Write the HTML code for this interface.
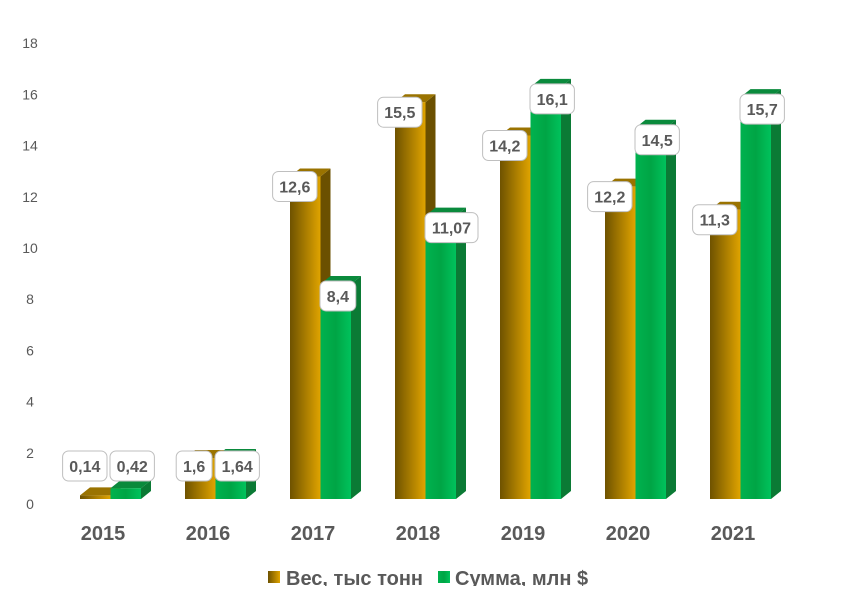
<!DOCTYPE html>
<html><head><meta charset="utf-8"><style>
body{margin:0;background:#fff;}
svg text{font-family:"Liberation Sans","DejaVu Sans",sans-serif;}
</style></head><body>
<svg width="841" height="586">
<defs>
<linearGradient id="gold" x1="0" x2="1" y1="0" y2="0"><stop offset="0" stop-color="#6e5200"/><stop offset="1" stop-color="#e0a400"/></linearGradient>
<linearGradient id="green" x1="0" x2="1" y1="0" y2="0"><stop offset="0" stop-color="#00b24f"/><stop offset="0.5" stop-color="#00a545"/><stop offset="1" stop-color="#00c25c"/></linearGradient>
</defs>
<g id="yaxis"></g>
<g id="bars"></g>
<g id="xaxis"></g>
<g>
<g><rect x="268" y="571" width="12" height="12" fill="url(#gold)"/><text x="286" y="585" font-size="20" font-weight="bold" fill="#595959">Вес, тыс тонн</text></g>
<g><rect x="438" y="571" width="12" height="12" fill="url(#green)"/><text x="455" y="585" font-size="20" font-weight="bold" fill="#595959">Сумма, млн $</text></g>
</g>
</svg>
<script>
const categories=["2015","2016","2017","2018","2019","2020","2021"];
const weight=[0.14,1.6,12.6,15.5,14.2,12.2,11.3];
const sum=[0.42,1.64,8.4,11.07,16.1,14.5,15.7];
const weightLabels=["0,14","1,6","12,6","15,5","14,2","12,2","11,3"];
const sumLabels=["0,42","1,64","8,4","11,07","16,1","14,5","15,7"];
const yTicks=[0,2,4,6,8,10,12,14,16,18];
const NS="http://www.w3.org/2000/svg";
const base=499,k=25.6;
const y=v=>base-v*k;
const x=i=>80+i*105;
function mk(tag,attrs,parent){const e=document.createElementNS(NS,tag);for(const a in attrs)e.setAttribute(a,attrs[a]);parent.appendChild(e);return e;}
const ya=document.getElementById('yaxis'),bg=document.getElementById('bars'),xa=document.getElementById('xaxis');
yTicks.forEach(t=>{const e=mk('text',{x:30,y:y(t)+10,'text-anchor':'middle','font-size':14,fill:'#595959'},ya);e.textContent=t;

});
const dx=10,dy=8,w=30.5;
function bar(x0,v,fill,top,side,name){
 const g=mk('g',{},bg);
 
 
 const yt=y(v);
 mk('polygon',{points:`${x0+w},${yt} ${x0+w+dx},${yt-dy} ${x0+w+dx},${base-dy} ${x0+w},${base}`,fill:side},g);
 mk('polygon',{points:`${x0},${yt} ${x0+dx},${yt-dy} ${x0+w+dx},${yt-dy} ${x0+w},${yt}`,fill:top},g);
 mk('rect',{x:x0,y:yt,width:w,height:base-yt,fill:fill},g);
}
function label(edge,right,cy,txt,name){
 const g=mk('g',{},bg);
 
 
 const tw=txt.length*8.6+10;
 const lx=right?edge-tw:edge;
 mk('rect',{x:lx,y:cy-15,width:tw,height:30,rx:6,fill:'#fff',stroke:'#bfbfbf'},g);
 const t=mk('text',{x:lx+tw/2,y:cy+6,'text-anchor':'middle','font-size':16,'font-weight':'bold',fill:'#595959'},g);t.textContent=txt;
}
categories.forEach((c,i)=>{
 const x0=x(i);
 bar(x0,weight[i],'url(#gold)','#9a7300','#6b5000','bar-weight-'+c);
 bar(x0+w,sum[i],'url(#green)','#0a8a3c','#0b7a35','bar-sum-'+c);
 label(x0+27,true,Math.min(y(weight[i])+10,466),weightLabels[i],'value-label-weight-'+c);
 label(x0+30,false,Math.min(y(sum[i])+12,466),sumLabels[i],'value-label-sum-'+c);
 const t=mk('text',{x:x0+23,y:540,'text-anchor':'middle','font-size':20,'font-weight':'bold',fill:'#595959'},xa);t.textContent=c;
 
 
});
</script>
</body></html>
